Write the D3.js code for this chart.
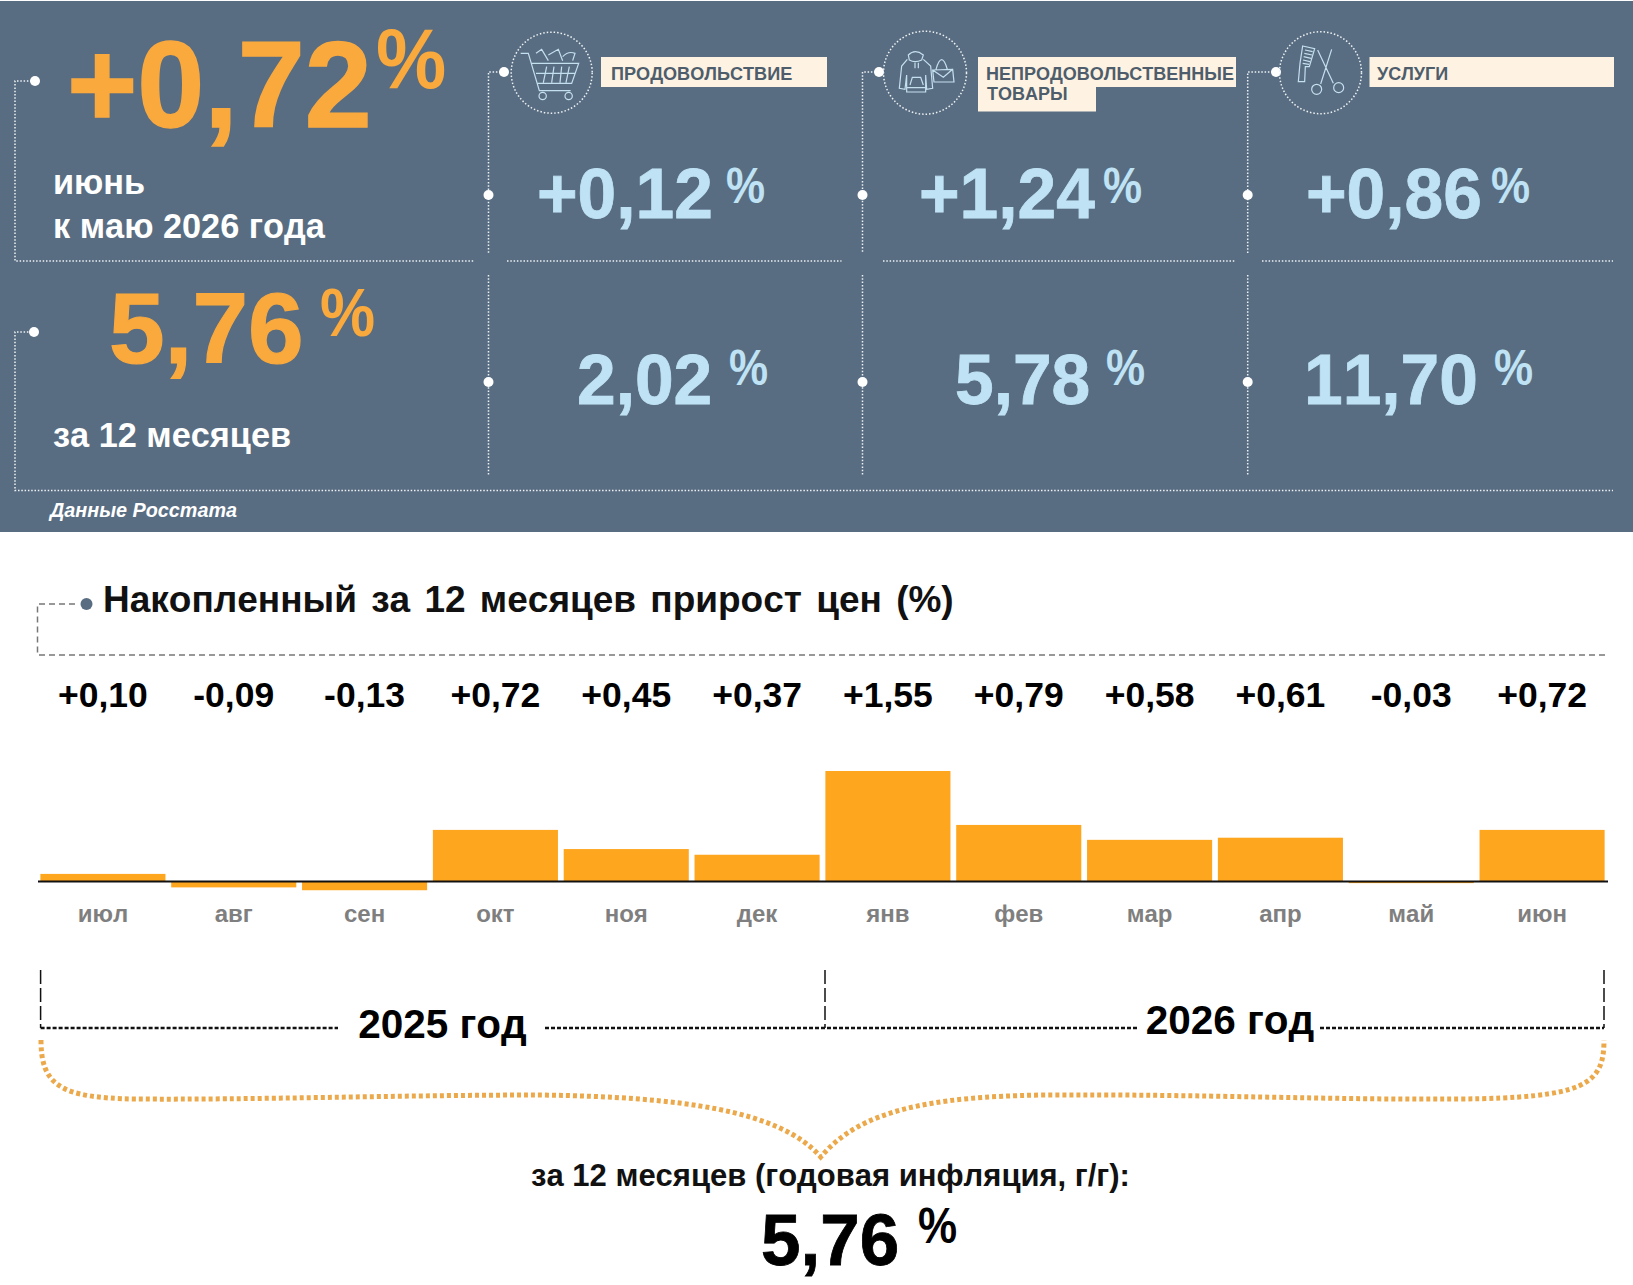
<!DOCTYPE html>
<html lang="ru">
<head>
<meta charset="utf-8">
<title>Инфляция</title>
<script src="https://cdn.jsdelivr.net/npm/d3@7"></script>
<style>
  body { margin: 0; background: #fff; }
  text { font-family: "Liberation Sans", Arial, sans-serif; font-weight: bold; font-kerning: none; }
</style>
</head>
<body>
<div id="chart"></div>
<script>
const months = ['июл', 'авг', 'сен', 'окт', 'ноя', 'дек', 'янв', 'фев', 'мар', 'апр', 'май', 'июн'];
const monthValues = [0.10, -0.09, -0.13, 0.72, 0.45, 0.37, 1.55, 0.79, 0.58, 0.61, -0.03, 0.72];
const monthlyByGroup = ['+0,12', '+1,24', '+0,86'];
const yearlyByGroup = ['2,02', '5,78', '11,70'];
const yearLabels = ['2025 год', '2026 год'];

const width = 1633, height = 1285;
const orange = '#faa93d', blue = '#bfe3f4', panel = '#596d82', dotted = '#eef2f5';

const svg = d3.select('#chart').append('svg')
    .attr('width', width)
    .attr('height', height)
    .style('display', 'block');

function label(str, x, y, size, fill, anchor) {
    return svg.append('text')
        .attr('x', x)
        .attr('y', y)
        .attr('font-size', size)
        .attr('fill', fill)
        .attr('text-anchor', anchor || 'start')
        .text(str);
}

// the big figures are taller and heavier than the plain font
function big(str, x, y, size, fill, k, heavy) {
    return svg.append('text')
        .attr('transform', `translate(${x},${y}) scale(1,${k})`)
        .attr('font-size', size)
        .attr('fill', fill)
        .attr('stroke', fill)
        .attr('stroke-width', heavy)
        .text(str);
}

function dots(d) {
    svg.append('path')
        .attr('d', d)
        .attr('fill', 'none')
        .attr('stroke', dotted)
        .attr('stroke-width', 1.5)
        .attr('stroke-dasharray', '1.5,1.8');
}

function node(x, y) {
    svg.append('circle').attr('cx', x).attr('cy', y).attr('r', 5).attr('fill', '#fff');
}

// top panel
svg.append('rect').attr('y', 1).attr('width', width).attr('height', 531).attr('fill', panel);

dots('M35,81H15V261H474');
dots('M35,332H15V490.5H1613');
dots('M507,261H841.5M883,261H1235M1262,261H1613');
[[488.5, 504], [862.5, 879], [1247.7, 1276]].forEach(([x, dx]) => {
    dots(`M${dx},72H${x}V253M${x},275V476`);
    node(dx, 72);
    node(x, 195);
    node(x, 382);
});
node(35, 81);
node(34, 332);

big('+0,72', 67, 127, 120.5, orange, 1.01, 1.5);
big('%', 376, 88, 79, orange, 1.08, 0);
label('июнь', 53, 194, 34.3, '#fff');
label('к маю 2026 года', 53, 238, 34.3, '#fff');
big('5,76', 109, 363, 100, orange, 1.0, 1.2);
big('%', 320, 336, 62, orange, 1.12, 0);
label('за 12 месяцев', 53, 447, 34.3, '#fff');
label('Данные Росстата', 50, 517, 19.8, '#fff').style('font-style', 'italic');

// monthly / yearly numbers by group
const monthX = [537, 919, 1306], monthPct = [726, 1103, 1491];
monthlyByGroup.forEach((v, i) => {
    big(v, monthX[i], 218, 69.5, blue, 1.0, 0.8);
    big('%', monthPct[i], 203, 44, blue, 1.12, 0);
});
const yearX = [577, 955, 1304], yearPct = [729, 1106, 1494];
yearlyByGroup.forEach((v, i) => {
    big(v, yearX[i], 404, 69.5, blue, 1.0, 0.8);
    big('%', yearPct[i], 385, 44, blue, 1.12, 0);
});

// category labels
const cream = '#fef3e2', labelInk = '#4e5d6c';
svg.append('rect').attr('x', 601).attr('y', 57).attr('width', 226).attr('height', 30).attr('fill', cream);
svg.append('rect').attr('x', 978).attr('y', 57).attr('width', 258).attr('height', 30).attr('fill', cream);
svg.append('rect').attr('x', 978).attr('y', 87).attr('width', 118).attr('height', 24.5).attr('fill', cream);
svg.append('rect').attr('x', 1369.5).attr('y', 57).attr('width', 244.5).attr('height', 30).attr('fill', cream);
label('ПРОДОВОЛЬСТВИЕ', 611, 80, 18.1, labelInk);
label('НЕПРОДОВОЛЬСТВЕННЫЕ', 986, 80, 18, labelInk);
label('ТОВАРЫ', 987, 100, 18, labelInk);
label('УСЛУГИ', 1377, 80, 18, labelInk);

// icons, drawn in the zoomed 3x grid of the picture
function icon(cx, cy, r, ox, paths) {
    svg.append('circle')
        .attr('cx', cx).attr('cy', cy).attr('r', r)
        .attr('fill', 'none')
        .attr('stroke', dotted)
        .attr('stroke-width', 1.5)
        .attr('stroke-dasharray', '1.5,2');
    svg.append('path')
        .attr('transform', `translate(${ox},20) scale(0.3333)`)
        .attr('d', paths)
        .attr('fill', 'none')
        .attr('stroke', '#c4dfee')
        .attr('stroke-width', 3.6);
}
function ring(x, y, r) {
    return `M${x - r},${y}a${r},${r} 0 1,0 ${2 * r},0a${r},${r} 0 1,0 ${-2 * r},0`;
}
icon(551.7, 72.7, 40.5, 480,
    'M122,100H145L178,212H272M155,130H296L275,190H172M168,160H285M200,140L190,188M222,140L215,188M245,140L240,188M268,140L258,188' +
    'M168,100L185,88L205,122M205,105L235,88L248,122M248,110Q265,92 285,100L278,122' + ring(188, 228, 11) + ring(266, 228, 11));
icon(925, 72.7, 41.5, 860,
    'M145,105Q165,85 190,105L185,120Q165,130 148,120ZM142,118L125,138L118,205L135,208L140,165V216H197V165L200,208L218,205L212,138L190,118' +
    'M150,195L157,172H182L190,195M140,203H197M165,128V145M175,128V145' +
    'M218,150L278,148L282,186L222,186ZM218,150L250,172L278,148M228,148Q245,90 262,148');
icon(1320.5, 72.7, 41, 1250,
    'M158,78L194,86L178,140H166L164,185H145L150,130ZM165,90L188,95M163,100L186,105M161,110L183,115M159,120L180,125M158,130L177,133' +
    'M203,90L250,190M245,88L212,192' + ring(200, 208, 15) + ring(266, 203, 15));

// chart title
svg.append('path')
    .attr('d', 'M75,604H37.5V655H1607')
    .attr('fill', 'none')
    .attr('stroke', '#777')
    .attr('stroke-width', 1.5)
    .attr('stroke-dasharray', '6,4');
svg.append('circle').attr('cx', 86.5).attr('cy', 604).attr('r', 6).attr('fill', panel);
label('Накопленный за 12 месяцев прирост цен (%)', 103, 612, 37, '#111').style('word-spacing', '4px');

// bars
const x = d3.scaleBand().domain(months).range([37.5, 1607.5]).paddingInner(0.044).paddingOuter(0.022);
const y = d3.scaleLinear().domain([0, 1.55]).range([881, 771]);
const fmt = v => (v > 0 ? '+' : '-') + Math.abs(v).toFixed(2).replace('.', ',');

svg.append('g').selectAll('rect')
    .data(monthValues)
    .enter().append('rect')
    .attr('x', (d, i) => x(months[i]))
    .attr('y', d => y(Math.max(d, 0)))
    .attr('width', x.bandwidth())
    .attr('height', d => Math.abs(y(d) - y(0)))
    .attr('fill', '#fea61e');

svg.append('g').selectAll('text')
    .data(monthValues)
    .enter().append('text')
    .attr('x', (d, i) => x(months[i]) + x.bandwidth() / 2)
    .attr('y', 707)
    .attr('text-anchor', 'middle')
    .attr('font-size', 35.5)
    .attr('fill', '#000')
    .text(fmt);

const axis = svg.append('g')
    .attr('transform', `translate(0,${y(0)})`)
    .call(d3.axisBottom(x).tickSize(0).tickPadding(23.5));
axis.select('.domain').attr('stroke', '#111').attr('stroke-width', 1.8);
axis.selectAll('text')
    .attr('font-size', 24)
    .attr('font-family', '"Liberation Sans", Arial, sans-serif')
    .attr('fill', '#7f7f7f');

// year brackets
svg.append('path')
    .attr('d', 'M40.6,970V1028M825,970V1028M1604,970V1028')
    .attr('fill', 'none')
    .attr('stroke', '#111')
    .attr('stroke-width', 1.5)
    .attr('stroke-dasharray', '14,4');
svg.append('path')
    .attr('d', 'M40.6,1028H338M545,1028H1139M1320,1028H1604')
    .attr('fill', 'none')
    .attr('stroke', '#111')
    .attr('stroke-width', 2.4)
    .attr('stroke-dasharray', '4,2');
label(yearLabels[0], 442.5, 1038, 40.5, '#000', 'middle');
label(yearLabels[1], 1230, 1034, 40.5, '#000', 'middle');

// brace
svg.append('path')
    .attr('d', 'M41,1040C41,1085 60,1098 135,1099C250,1100 400,1095 541,1095C680,1097 780,1110 820.7,1157' +
        'C860,1110 930,1097 1041,1095C1200,1094 1330,1100 1458,1099C1585,1098 1604,1085 1604,1040')
    .attr('fill', 'none')
    .attr('stroke', '#eba94c')
    .attr('stroke-width', 5)
    .attr('stroke-dasharray', '4,3');

label('за 12 месяцев (годовая инфляция, г/г):', 830.5, 1186, 31, '#111', 'middle');
big('5,76', 761, 1265, 71, '#000', 1.01, 0.8);
big('%', 918, 1243, 44, '#000', 1.12, 0);
</script>
</body>
</html>
